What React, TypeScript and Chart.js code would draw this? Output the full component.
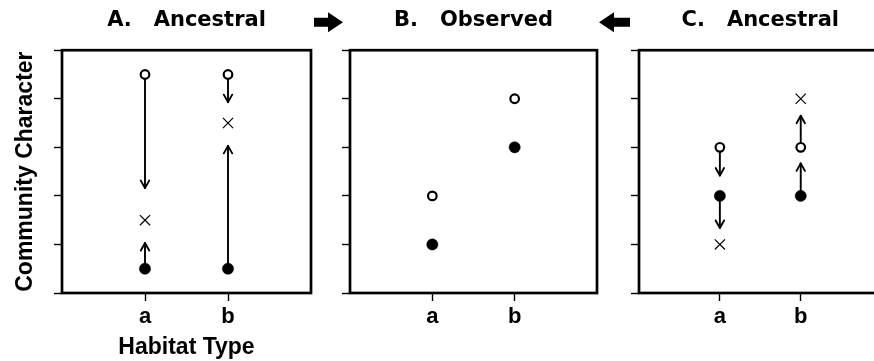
import React, { useEffect, useRef } from 'react';
import { Chart, registerables } from 'chart.js';

Chart.register(...registerables);

// ---------- data ----------
const habitats = ['a', 'b'];
const yMin = 0;
const yMax = 5;

// Panel A (ancestral)
const aOpen = [4.5, 4.5];
const aFilled = [0.5, 0.5];
const aCross = [1.5, 3.5];
const aArrowX = [1, 1, 2, 2];
const aArrowFrom = [4.5, 0.5, 4.5, 0.5];
const aArrowTo = [2.16, 1.03, 3.93, 3.03];

// Panel B (observed)
const bOpen = [2, 4];
const bFilled = [1, 3];

// Panel C (ancestral)
const cOpen = [3, 3];
const cFilled = [2, 2];
const cCross = [1, 4];
const cArrowX = [1, 1, 2, 2];
const cArrowFrom = [3, 2, 2, 3];
const cArrowTo = [2.42, 1.34, 2.67, 3.65];

const titles = ['A.   Ancestral', 'B.   Observed', 'C.   Ancestral'];
const yAxisTitle = 'Community Character';
const xAxisTitle = 'Habitat Type';

// ---------- layout ----------
type Panel = {
  title: string;
  open: number[];
  filled: number[];
  cross?: number[];
  arrowX?: number[];
  arrowFrom?: number[];
  arrowTo?: number[];
  left: number;
  width: number;
  yWidth: number;
  padRight: number;
  yTitle?: string;
  xTitle?: string;
  bigArrows?: boolean;
};

const panels: Panel[] = [
  {
    title: titles[0], open: aOpen, filled: aFilled, cross: aCross,
    arrowX: aArrowX, arrowFrom: aArrowFrom, arrowTo: aArrowTo,
    left: 0, width: 330, yWidth: 62, padRight: 19, yTitle: yAxisTitle, xTitle: xAxisTitle,
  },
  {
    title: titles[1], open: bOpen, filled: bFilled,
    left: 305, width: 335, yWidth: 45, padRight: 43, bigArrows: true,
  },
  {
    title: titles[2], open: cOpen, filled: cFilled, cross: cCross,
    arrowX: cArrowX, arrowFrom: cArrowFrom, arrowTo: cArrowTo,
    left: 590, width: 300, yWidth: 49, padRight: 8,
  },
];

const H = 361;
const AXIS_FONT = '"Liberation Sans", Arial, Helvetica, sans-serif';
const TITLE_FONT = '"DejaVu Sans", Verdana, sans-serif';

function drawDataArrow(ctx: CanvasRenderingContext2D, x: number, y0: number, y1: number) {
  const dir = y1 < y0 ? -1 : 1;
  ctx.beginPath();
  ctx.moveTo(x, y0);
  ctx.lineTo(x, y1);
  ctx.stroke();
  ctx.beginPath();
  ctx.moveTo(x - 4.2, y1 - dir * 7.5);
  ctx.lineTo(x, y1);
  ctx.lineTo(x + 4.2, y1 - dir * 7.5);
  ctx.stroke();
}

function blockArrow(ctx: CanvasRenderingContext2D, tail: number, tip: number, cy: number) {
  const s = tip > tail ? 1 : -1;
  const headLen = 15;
  const base = tip - s * headLen;
  ctx.beginPath();
  ctx.moveTo(tail, cy - 4.5);
  ctx.lineTo(base, cy - 4.5);
  ctx.lineTo(base, cy - 10);
  ctx.lineTo(tip, cy);
  ctx.lineTo(base, cy + 10);
  ctx.lineTo(base, cy + 4.5);
  ctx.lineTo(tail, cy + 4.5);
  ctx.closePath();
  ctx.fill();
}

function makeConfig(p: Panel): any {
  const datasets: any[] = [
    {
      label: 'open',
      data: p.open.map((v, i) => ({ x: i + 1, y: v })),
      pointStyle: 'circle',
      pointRadius: 4.3,
      pointBorderWidth: 2.2,
      pointBackgroundColor: '#ffffff',
      pointBorderColor: '#000000',
      showLine: false,
    },
    {
      label: 'filled',
      data: p.filled.map((v, i) => ({ x: i + 1, y: v })),
      pointStyle: 'circle',
      pointRadius: 5.6,
      pointBorderWidth: 0.5,
      pointBackgroundColor: '#000000',
      pointBorderColor: '#000000',
      showLine: false,
    },
  ];
  if (p.cross) {
    datasets.push({
      label: 'cross',
      data: p.cross.map((v, i) => ({ x: i + 1, y: v })),
      pointStyle: 'crossRot',
      pointRadius: 7.2,
      pointBorderWidth: 1.2,
      pointBorderColor: '#000000',
      showLine: false,
    });
  }

  const decor = {
    id: 'decor' + p.title.charAt(0),
    beforeDatasetsDraw(chart: any) {
      const ctx = chart.ctx as CanvasRenderingContext2D;
      const xs = chart.scales.x;
      const ys = chart.scales.y;
      if (p.arrowX && p.arrowFrom && p.arrowTo) {
        ctx.save();
        ctx.strokeStyle = '#000';
        ctx.lineWidth = 1.9;
        ctx.lineCap = 'round';
        ctx.lineJoin = 'round';
        for (let i = 0; i < p.arrowX.length; i++) {
          const x = xs.getPixelForValue(p.arrowX[i]);
          drawDataArrow(ctx, x, ys.getPixelForValue(p.arrowFrom[i]), ys.getPixelForValue(p.arrowTo[i]));
        }
        ctx.restore();
      }
    },
    afterDraw(chart: any) {
      const ctx = chart.ctx as CanvasRenderingContext2D;
      const a = chart.chartArea;
      ctx.save();
      ctx.strokeStyle = '#000';
      ctx.lineWidth = 2.7;
      ctx.strokeRect(a.left, a.top, a.right - a.left, a.bottom - a.top);
      if (p.bigArrows) {
        ctx.fillStyle = '#000';
        const cy = a.top - 28;
        blockArrow(ctx, a.left - 36, a.left - 7, cy);
        blockArrow(ctx, a.right + 33, a.right + 2, cy);
      }
      ctx.restore();
    },
  };

  return {
    type: 'scatter',
    data: { datasets },
    plugins: [decor],
    options: {
      responsive: false,
      animation: false,
      events: [],
      layout: { padding: { left: 0, right: p.padRight, top: 0, bottom: 0 } },
      plugins: {
        legend: { display: false },
        tooltip: { enabled: false },
        title: {
          display: true,
          text: p.title,
          fullSize: false,
          color: '#000',
          font: { family: TITLE_FONT, weight: 'bold', size: 21, lineHeight: 1.2 },
          padding: { top: 8, bottom: 17 },
        },
      },
      scales: {
        x: {
          type: 'linear',
          min: 0,
          max: habitats.length + 1,
          afterBuildTicks(scale: any) {
            scale.ticks = habitats.map((_, i) => ({ value: i + 1 }));
          },
          afterFit(scale: any) {
            scale.height = 68;
          },
          ticks: {
            color: '#000',
            padding: 3,
            font: { family: AXIS_FONT, weight: 'bold', size: 22 },
            callback: (v: number) => habitats[Math.round(v) - 1] ?? '',
          },
          grid: {
            display: true,
            drawOnChartArea: false,
            drawTicks: true,
            tickLength: 8,
            tickColor: '#000',
            tickWidth: 1.4,
            color: '#000',
          },
          border: { display: false },
          title: {
            display: !!p.xTitle,
            text: p.xTitle || '',
            color: '#000',
            font: { family: AXIS_FONT, weight: 'bold', size: 23, lineHeight: 1.2 },
            padding: { top: 0, bottom: 0 },
          },
        },
        y: {
          type: 'linear',
          min: yMin,
          max: yMax,
          afterFit(scale: any) {
            scale.width = p.yWidth;
          },
          ticks: { display: false, stepSize: 1 },
          grid: {
            display: true,
            drawOnChartArea: false,
            drawTicks: true,
            tickLength: 8,
            tickColor: '#000',
            tickWidth: 1.4,
            color: '#000',
          },
          border: { display: false },
          title: {
            display: !!p.yTitle,
            text: p.yTitle || '',
            color: '#000',
            font: { family: AXIS_FONT, weight: 'bold', size: 23, lineHeight: 1.2 },
            padding: { top: 12, bottom: 0 },
          },
        },
      },
    },
  };
}

function PanelChart({ p }: { p: Panel }) {
  const ref = useRef<HTMLCanvasElement | null>(null);
  useEffect(() => {
    if (!ref.current) return;
    const chart = new Chart(ref.current, makeConfig(p));
    return () => chart.destroy();
  }, [p]);
  return (
    <canvas
      ref={ref}
      width={p.width}
      height={H}
      style={{ position: 'absolute', left: p.left, top: 0, width: p.width, height: H }}
    />
  );
}

export default function App() {
  useEffect(() => {
    document.body.style.margin = '0';
  }, []);
  return (
    <div
      style={{
        position: 'absolute',
        left: 0,
        top: 0,
        width: 874,
        height: H,
        overflow: 'hidden',
        background: '#ffffff',
      }}
    >
      {panels.map((p) => (
        <PanelChart key={p.title} p={p} />
      ))}
    </div>
  );
}
